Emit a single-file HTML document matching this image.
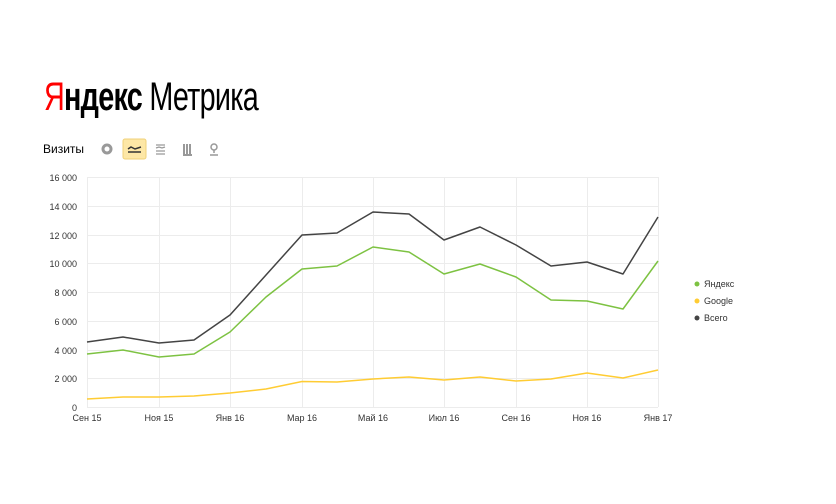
<!DOCTYPE html>
<html><head><meta charset="utf-8"><style>
body{margin:0;width:836px;height:499px;background:#fff;overflow:hidden;font-family:"Liberation Sans",sans-serif}
</style></head><body>
<svg width="836" height="499" xmlns="http://www.w3.org/2000/svg" font-family="Liberation Sans, sans-serif">
<text x="44" y="110" font-size="40" fill="#000" textLength="214" lengthAdjust="spacingAndGlyphs" style="letter-spacing:-1px"><tspan fill="#f00">Я</tspan><tspan font-weight="bold">ндекс</tspan> Метрика</text>
<text x="43" y="153" font-size="12" fill="#000">Визиты</text>
<circle cx="107" cy="149" r="4" fill="none" stroke="#999" stroke-width="3"/>
<rect x="123" y="139" width="23" height="20" rx="2" fill="#fde7a6" stroke="#f0d27a"/>
<path d="M128 149 l3 -2 l4 2 l6 -2 M128 152 h13" stroke="#333" stroke-width="1.5" fill="none"/>
<path d="M156 145 h9 M156 148 l3 -1 l3 1 l3 -1 M156 151 h9 M156 154 h9" stroke="#999" stroke-width="1.3" fill="none"/>
<path d="M184 144 v10 M187 144 v10 M190 144 v10 M183 155 h9" stroke="#999" stroke-width="2" fill="none"/>
<circle cx="214" cy="147" r="3" fill="none" stroke="#999" stroke-width="1.5"/><path d="M214 150 v3 M210 155 h8" stroke="#999" stroke-width="1.5"/>
<g stroke="#ececec" stroke-width="1">
<line x1="87" y1="177.5" x2="658" y2="177.5"/><line x1="87" y1="206.5" x2="658" y2="206.5"/><line x1="87" y1="235.5" x2="658" y2="235.5"/><line x1="87" y1="263.5" x2="658" y2="263.5"/><line x1="87" y1="292.5" x2="658" y2="292.5"/><line x1="87" y1="321.5" x2="658" y2="321.5"/><line x1="87" y1="350.5" x2="658" y2="350.5"/><line x1="87" y1="378.5" x2="658" y2="378.5"/><line x1="87" y1="407.5" x2="658" y2="407.5"/>
<line x1="87.5" y1="177" x2="87.5" y2="407"/><line x1="159.5" y1="177" x2="159.5" y2="407"/><line x1="230.5" y1="177" x2="230.5" y2="407"/><line x1="302.5" y1="177" x2="302.5" y2="407"/><line x1="373.5" y1="177" x2="373.5" y2="407"/><line x1="444.5" y1="177" x2="444.5" y2="407"/><line x1="516.5" y1="177" x2="516.5" y2="407"/><line x1="587.5" y1="177" x2="587.5" y2="407"/><line x1="658.5" y1="177" x2="658.5" y2="407"/>
</g>
<g font-size="9" fill="#333" text-anchor="end">
<text x="77" y="181">16 000</text><text x="77" y="210">14 000</text><text x="77" y="239">12 000</text><text x="77" y="267">10 000</text><text x="77" y="296">8 000</text><text x="77" y="325">6 000</text><text x="77" y="354">4 000</text><text x="77" y="382">2 000</text><text x="77" y="411">0</text>
</g>
<g font-size="9" fill="#333" text-anchor="middle">
<text x="87" y="421">Сен 15</text><text x="159" y="421">Ноя 15</text><text x="230" y="421">Янв 16</text><text x="302" y="421">Мар 16</text><text x="373" y="421">Май 16</text><text x="444" y="421">Июл 16</text><text x="516" y="421">Сен 16</text><text x="587" y="421">Ноя 16</text><text x="658" y="421">Янв 17</text>
</g>
<g fill="none" stroke-width="1.5" stroke-linejoin="round">
<polyline stroke="#ffcc33" points="87,399 123,397 159,397 194,396 230,393 266,389 302,381.5 337,382 373,379 409,377 444,380 480,377 516,381 551,379 587,373 623,378 658,370"/>
<polyline stroke="#7dc242" points="87,354 123,350 159,357 194,354 230,332 266,297 302,269 337,266 373,247 409,252 444,274 480,264 516,277 551,300 587,301 623,309 658,261"/>
<polyline stroke="#444" points="87,342 123,337 159,343 194,340 230,315 266,275 302,235 337,233 373,212 409,214 444,240 480,227 516,245 551,266 587,262 623,274 658,217"/>
</g>
<g font-size="9" fill="#333">
<circle cx="697" cy="284" r="2.5" fill="#7dc242"/><text x="704" y="287">Яндекс</text>
<circle cx="697" cy="301" r="2.5" fill="#ffcc33"/><text x="704" y="304">Google</text>
<circle cx="697" cy="318" r="2.5" fill="#444"/><text x="704" y="321">Всего</text>
</g>
</svg>
</body></html>
